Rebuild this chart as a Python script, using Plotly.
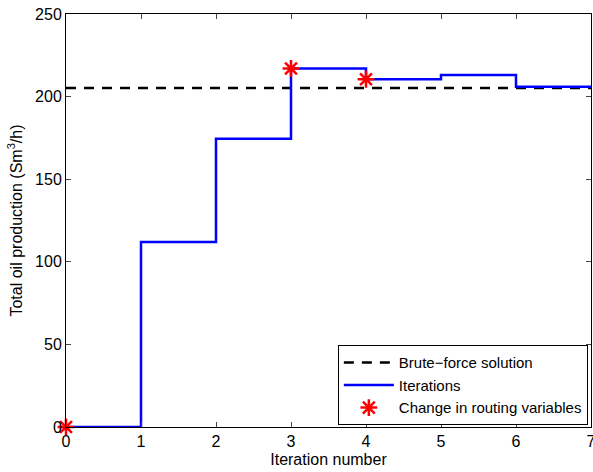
import plotly.graph_objects as go

iterations = [0, 1, 2, 3, 4, 5, 6, 7]
production = [0, 112, 174.5, 217, 210.5, 213, 206, 206]
brute_force = 205.2
change_x = [0, 3, 4]
change_y = [0, 217, 210.5]

fig = go.Figure()
fig.add_trace(go.Scatter(
    x=[iterations[0], iterations[-1]], y=[brute_force, brute_force],
    mode="lines", name="Brute\u2212force solution",
    line=dict(color="black", width=2.5, dash="10px,8px")))
fig.add_trace(go.Scatter(
    x=iterations, y=production, mode="lines", name="Iterations",
    line=dict(color="#0000ff", width=2.5, shape="hv")))
fig.add_trace(go.Scatter(
    x=change_x, y=change_y, mode="markers", name="Change in routing variables",
    marker=dict(symbol="asterisk-open", size=14, color="red",
                line=dict(color="red", width=2.5)),
    cliponaxis=False))

fam = "Liberation Sans, Arial, sans-serif"
font = dict(family=fam, size=16, color="black")
fig.update_layout(
    width=593, height=472,
    margin=dict(l=66, r=2, t=14, b=45),
    paper_bgcolor="white", plot_bgcolor="white",
    font=font,
    showlegend=True,
    legend=dict(x=0.994, y=0.004, xanchor="right", yanchor="bottom",
                bordercolor="black", borderwidth=1, bgcolor="white",
                font=dict(family=fam, size=15, color="black"),
                tracegroupgap=0, itemwidth=50),
)
fig.update_xaxes(range=[0, 7], tickvals=iterations, ticks="inside", ticklen=5,
                 showline=True, linecolor="black", linewidth=1, mirror="allticks",
                 showgrid=False, zeroline=False, automargin=False,
                 ticklabeloverflow="allow",
                 tickfont=dict(family=fam, size=16, color="black"),
                 title=dict(text="Iteration number", standoff=4,
                            font=dict(family=fam, size=16, color="black")))
fig.update_yaxes(range=[0, 250], tickvals=[0, 50, 100, 150, 200, 250],
                 ticks="inside", ticklen=5,
                 showline=True, linecolor="black", linewidth=1, mirror="allticks",
                 showgrid=False, zeroline=False, automargin=False,
                 ticklabeloverflow="allow",
                 tickfont=dict(family=fam, size=16, color="black"),
                 title=dict(text="Total oil production (Sm<sup>3</sup>/h)", standoff=8,
                            font=dict(family=fam, size=16, color="black")))
fig.write_html("out.html", config={"displayModeBar": False},
               post_script="document.body.style.margin='0';")
